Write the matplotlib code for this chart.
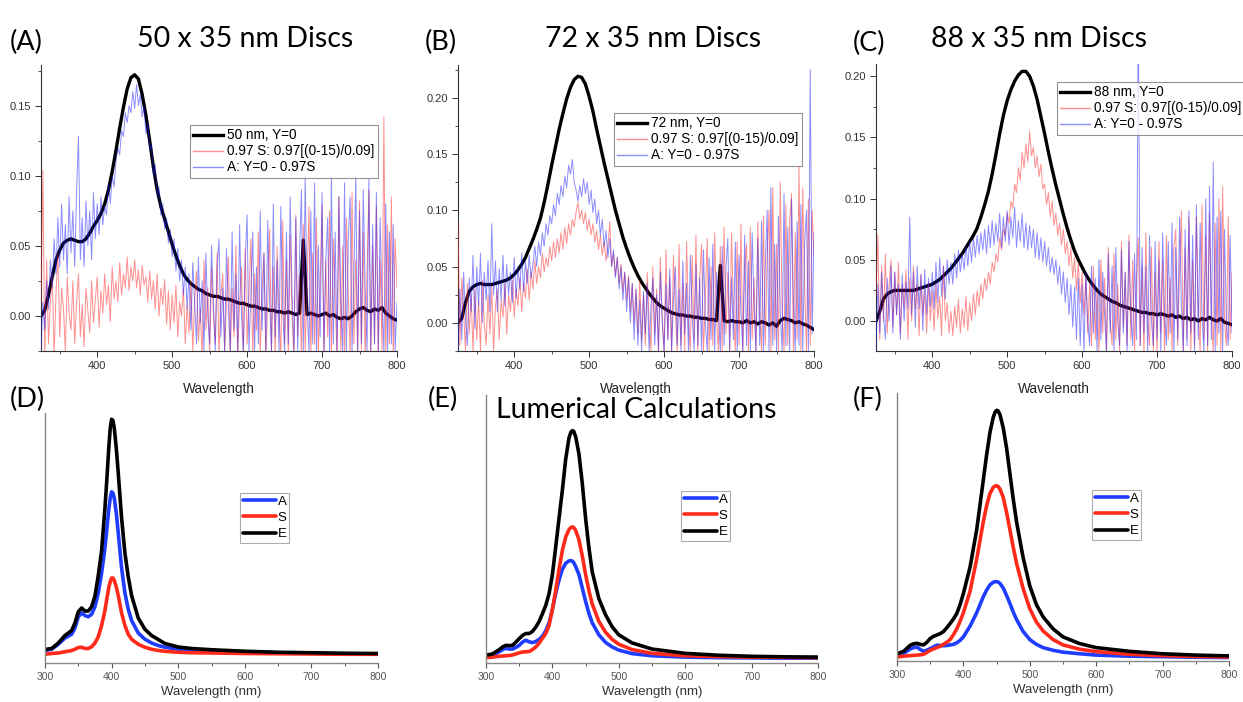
import matplotlib
matplotlib.use('Agg')
import matplotlib.pyplot as plt
from matplotlib.ticker import MultipleLocator, NullLocator

plt.rcParams['font.family'] = ['Liberation Sans', 'DejaVu Sans']

# ---- measured spectra (panels A-C) ----
# black (extinction) read every 5 nm, red/blue (noisy) every 2.5 nm
wl_exp = list(range(325, 805, 5))
wl_noisy = [325 + 2.5 * i for i in range(191)]

a_black = [0.000, 0.004, 0.015, 0.028, 0.040, 0.047, 0.052, 0.054, 0.055, 0.054,
           0.053, 0.053, 0.055, 0.059, 0.064, 0.068, 0.073, 0.080, 0.090, 0.103,
           0.118, 0.134, 0.149, 0.162, 0.170, 0.172, 0.169, 0.158, 0.143, 0.125,
           0.106, 0.090, 0.078, 0.069, 0.060, 0.051, 0.043, 0.036, 0.030, 0.026,
           0.023, 0.021, 0.019, 0.018, 0.016, 0.015, 0.014, 0.014, 0.013, 0.012,
           0.012, 0.011, 0.010, 0.009, 0.009, 0.008, 0.007, 0.007, 0.006, 0.005,
           0.005, 0.004, 0.004, 0.003, 0.003, 0.002, 0.003, 0.002, 0.001, 0.002,
           0.054, 0.001, 0.002, 0.001, 0.000, 0.001, 0.002, 0.000, 0.001, -0.001,
           -0.002, -0.001, -0.002, 0.000, 0.003, 0.005, 0.006, 0.004, 0.003, 0.005,
           0.004, 0.006, 0.002, 0.000, -0.002, -0.003]
a_red = [0.010, 0.104, -0.030, 0.040, -0.020, 0.010, 0.030, -0.028, 0.015, 0.045,
         -0.015, 0.020, 0.005, -0.025, 0.028, 0.002, -0.010, 0.025, -0.020, 0.010,
         0.030, -0.015, 0.008, -0.022, 0.020, 0.004, -0.012, 0.025, -0.005, 0.012,
         0.028, -0.008, 0.018, 0.002, 0.030, 0.008, 0.022, -0.004, 0.035, 0.012,
         0.025, 0.010, 0.038, 0.015, 0.030, 0.020, 0.042, 0.018, 0.035, 0.025,
         0.040, 0.020, 0.033, 0.015, 0.036, 0.022, 0.028, 0.010, 0.032, 0.012,
         0.025, 0.005, 0.030, 0.000, 0.020, 0.008, 0.026, -0.006, 0.018, -0.010,
         0.015, -0.005, 0.022, -0.015, 0.010, 0.000, 0.020, -0.020, 0.008, -0.012,
         0.025, -0.025, 0.010, 0.032, -0.018, 0.005, -0.030, 0.040, -0.010, 0.020,
         -0.028, 0.035, 0.000, -0.020, 0.045, -0.030, 0.015, 0.030, -0.025, 0.008,
         0.042, -0.030, 0.020, -0.015, 0.050, -0.030, 0.010, 0.035, -0.028, 0.048,
         -0.020, 0.015, 0.055, -0.030, 0.030, -0.010, 0.060, -0.030, 0.020, 0.045,
         -0.030, 0.010, 0.062, -0.025, 0.035, -0.030, 0.050, 0.005, -0.030, 0.068,
         -0.020, 0.040, -0.030, 0.058, 0.000, -0.030, 0.072, -0.015, 0.030, -0.030,
         0.065, -0.025, 0.020, 0.078, -0.030, 0.045, -0.020, 0.070, -0.030, 0.025,
         0.080, -0.030, 0.040, -0.015, 0.075, -0.030, 0.055, 0.010, -0.030, 0.085,
         -0.025, 0.050, -0.030, 0.070, 0.015, -0.030, 0.088, -0.020, 0.040, -0.030,
         0.082, -0.025, 0.060, -0.030, 0.030, 0.090, -0.030, 0.050, -0.020, 0.078,
         -0.030, 0.040, -0.025, 0.142, -0.030, 0.065, -0.020, 0.085, -0.030, 0.055,
         0.020]
a_blue = [-0.025, 0.010, -0.010, 0.025, 0.005, 0.040, 0.020, 0.055, 0.030, 0.070,
          0.035, 0.080, 0.040, 0.065, 0.030, 0.085, 0.045, 0.075, 0.035, 0.090,
          0.128, 0.040, 0.070, 0.035, 0.082, 0.050, 0.075, 0.040, 0.088, 0.055,
          0.080, 0.058, 0.085, 0.065, 0.078, 0.072, 0.095, 0.080, 0.100, 0.092,
          0.110, 0.120, 0.115, 0.132, 0.128, 0.145, 0.138, 0.150, 0.145, 0.160,
          0.148, 0.165, 0.150, 0.158, 0.142, 0.150, 0.130, 0.138, 0.118, 0.122,
          0.100, 0.108, 0.085, 0.092, 0.072, 0.080, 0.062, 0.070, 0.052, 0.062,
          0.042, 0.055, 0.032, 0.048, 0.025, 0.040, 0.015, 0.035, 0.005, 0.030,
          -0.010, 0.038, 0.010, -0.020, 0.042, -0.005, 0.025, -0.025, 0.045, 0.000,
          -0.020, 0.050, 0.010, -0.025, 0.035, 0.055, -0.015, 0.020, -0.025, 0.048,
          0.005, -0.025, 0.060, -0.010, 0.030, -0.025, 0.065, 0.000, -0.025, 0.040,
          0.072, -0.025, 0.015, 0.060, -0.025, 0.035, -0.020, 0.075, -0.010, 0.045,
          -0.025, 0.068, 0.010, -0.025, 0.080, -0.015, 0.040, -0.025, 0.078, 0.005,
          -0.025, 0.060, -0.020, 0.085, 0.015, -0.025, 0.070, -0.025, 0.045, 0.090,
          -0.025, 0.100, 0.010, -0.025, 0.075, -0.020, 0.095, -0.025, 0.050, -0.015,
          0.088, -0.025, 0.040, 0.070, -0.025, 0.100, -0.020, 0.060, -0.025, 0.085,
          0.010, -0.025, 0.095, -0.025, 0.055, 0.085, -0.025, 0.030, 0.100, -0.025,
          0.075, -0.020, 0.090, 0.020, -0.025, 0.098, -0.025, 0.065, -0.020, 0.088,
          -0.025, 0.070, 0.010, -0.025, 0.080, -0.025, 0.060, -0.020, 0.065, -0.025,
          0.010]

b_black = [0.000, 0.004, 0.018, 0.028, 0.032, 0.034, 0.035, 0.034, 0.034, 0.034,
           0.035, 0.036, 0.037, 0.038, 0.040, 0.043, 0.047, 0.052, 0.058, 0.066,
           0.074, 0.083, 0.093, 0.107, 0.123, 0.140, 0.156, 0.172, 0.186, 0.199,
           0.209, 0.216, 0.219, 0.218, 0.212, 0.201, 0.188, 0.172, 0.157, 0.142,
           0.128, 0.114, 0.100, 0.088, 0.076, 0.066, 0.057, 0.049, 0.042, 0.036,
           0.031, 0.026, 0.022, 0.018, 0.015, 0.013, 0.011, 0.009, 0.008, 0.007,
           0.007, 0.006, 0.006, 0.005, 0.005, 0.004, 0.004, 0.003, 0.003, 0.002,
           0.051, 0.002, 0.001, 0.002, 0.001, 0.001, 0.000, 0.002, 0.000, 0.001,
           -0.001, 0.001, 0.000, -0.002, 0.000, -0.003, 0.002, 0.004, 0.003, 0.002,
           0.000, 0.001, -0.001, -0.002, -0.004, -0.006]
b_red = [0.090, -0.020, 0.040, 0.010, -0.025, 0.035, -0.010, 0.025, -0.025, 0.030,
         -0.015, 0.020, -0.025, 0.038, 0.000, -0.020, 0.025, -0.010, 0.032, -0.025,
         0.015, 0.030, -0.015, 0.020, 0.005, 0.035, -0.010, 0.025, 0.010, 0.038,
         0.005, 0.030, 0.015, 0.040, 0.010, 0.035, 0.022, 0.048, 0.020, 0.045,
         0.030, 0.055, 0.035, 0.050, 0.040, 0.062, 0.045, 0.058, 0.050, 0.068,
         0.055, 0.072, 0.058, 0.075, 0.062, 0.080, 0.065, 0.085, 0.070, 0.088,
         0.078, 0.092, 0.085, 0.098, 0.107, 0.092, 0.100, 0.088, 0.098, 0.082,
         0.092, 0.078, 0.088, 0.072, 0.082, 0.065, 0.078, 0.060, 0.072, 0.055,
         0.068, 0.090, 0.050, 0.062, 0.042, 0.058, 0.035, 0.052, 0.028, 0.045,
         0.020, 0.042, 0.010, 0.035, 0.000, 0.030, -0.010, 0.038, -0.015, 0.025,
         -0.020, 0.045, 0.000, -0.025, 0.050, -0.010, 0.030, -0.025, 0.058, 0.005,
         -0.025, 0.065, -0.015, 0.040, -0.025, 0.060, 0.010, -0.025, 0.070, -0.020,
         0.035, -0.025, 0.072, 0.000, -0.025, 0.060, -0.015, 0.078, -0.025, 0.040,
         0.070, -0.025, 0.020, 0.075, -0.025, 0.050, -0.020, 0.080, 0.005, -0.025,
         0.068, -0.025, 0.085, -0.010, 0.045, -0.025, 0.080, 0.010, -0.025, 0.072,
         -0.020, 0.088, -0.025, 0.050, 0.070, -0.025, 0.085, -0.015, 0.040, -0.025,
         0.090, 0.010, -0.025, 0.095, -0.020, 0.060, 0.100, -0.025, 0.120, -0.015,
         0.070, -0.025, 0.125, 0.010, -0.025, 0.105, -0.020, 0.090, 0.115, -0.025,
         0.080, -0.015, 0.140, -0.025, 0.120, 0.030, -0.025, 0.110, -0.020, 0.100,
         0.060]
b_blue = [-0.025, 0.030, -0.015, 0.045, 0.005, -0.020, 0.040, 0.010, 0.060, -0.005,
          0.050, 0.015, 0.062, 0.000, 0.045, 0.020, 0.055, 0.010, 0.088, 0.025,
          0.055, 0.010, 0.048, 0.020, 0.060, 0.015, 0.052, 0.025, 0.045, 0.018,
          0.058, 0.022, 0.050, 0.030, 0.062, 0.028, 0.055, 0.035, 0.060, 0.040,
          0.052, 0.068, 0.050, 0.072, 0.060, 0.080, 0.068, 0.088, 0.078, 0.095,
          0.088, 0.105, 0.095, 0.115, 0.105, 0.122, 0.112, 0.130, 0.120, 0.140,
          0.132, 0.145, 0.125, 0.118, 0.108, 0.122, 0.112, 0.128, 0.115, 0.125,
          0.105, 0.118, 0.098, 0.110, 0.088, 0.100, 0.078, 0.092, 0.068, 0.082,
          0.058, 0.075, 0.050, 0.065, 0.040, 0.058, 0.030, 0.050, 0.020, 0.045,
          0.010, 0.040, 0.000, 0.035, -0.015, 0.030, -0.020, 0.020, -0.025, 0.028,
          -0.010, 0.035, -0.025, 0.015, 0.040, -0.020, 0.025, -0.025, 0.045, 0.000,
          -0.025, 0.035, -0.015, 0.048, -0.025, 0.020, 0.050, -0.020, 0.030, -0.025,
          0.055, -0.010, 0.035, -0.025, 0.060, 0.005, -0.025, 0.052, -0.020, 0.040,
          -0.025, 0.065, 0.000, -0.025, 0.058, -0.015, 0.070, -0.025, 0.045, 0.010,
          -0.025, 0.068, -0.020, 0.050, 0.075, -0.025, 0.040, -0.015, 0.072, -0.025,
          0.060, 0.010, -0.025, 0.078, -0.020, 0.055, -0.025, 0.080, 0.015, -0.025,
          0.075, -0.020, 0.090, -0.025, 0.050, 0.100, -0.025, 0.120, -0.020, 0.070,
          -0.025, 0.095, 0.010, -0.025, 0.115, -0.020, 0.085, -0.025, 0.110, 0.020,
          -0.025, 0.090, -0.020, 0.105, -0.025, 0.070, 0.100, -0.025, 0.225, -0.010,
          0.080]

c_black = [0.000, 0.008, 0.018, 0.022, 0.024, 0.025, 0.025, 0.025, 0.025, 0.025,
           0.025, 0.026, 0.027, 0.028, 0.029, 0.030, 0.032, 0.034, 0.037, 0.040,
           0.043, 0.047, 0.051, 0.055, 0.060, 0.065, 0.070, 0.076, 0.085, 0.095,
           0.106, 0.120, 0.136, 0.153, 0.168, 0.180, 0.189, 0.196, 0.201, 0.204,
           0.204, 0.200, 0.192, 0.181, 0.167, 0.153, 0.138, 0.124, 0.111, 0.099,
           0.087, 0.076, 0.066, 0.057, 0.050, 0.044, 0.038, 0.033, 0.029, 0.025,
           0.022, 0.020, 0.018, 0.016, 0.015, 0.013, 0.012, 0.011, 0.010, 0.009,
           0.008, 0.007, 0.007, 0.006, 0.006, 0.005, 0.006, 0.005, 0.004, 0.005,
           0.003, 0.004, 0.002, 0.003, 0.001, 0.002, 0.000, 0.002, 0.001, 0.003,
           0.001, 0.000, 0.002, -0.001, -0.002, -0.003]
c_red = [0.020, 0.070, -0.015, 0.045, 0.000, 0.055, -0.010, 0.030, 0.050, -0.005,
         0.040, 0.005, 0.048, -0.010, 0.030, 0.010, 0.042, -0.015, 0.035, 0.000,
         0.045, 0.010, 0.030, -0.012, 0.038, 0.005, 0.025, -0.010, 0.032, 0.000,
         0.025, -0.008, 0.030, 0.002, 0.020, -0.012, 0.045, 0.000, 0.015, -0.010,
         0.008, -0.012, 0.012, -0.005, 0.018, -0.010, 0.010, -0.005, 0.020, -0.008,
         0.015, 0.000, 0.022, 0.005, 0.025, 0.012, 0.030, 0.018, 0.035, 0.025,
         0.040, 0.030, 0.048, 0.040, 0.055, 0.048, 0.068, 0.058, 0.075, 0.070,
         0.088, 0.080, 0.098, 0.092, 0.112, 0.105, 0.125, 0.115, 0.138, 0.125,
         0.145, 0.130, 0.155, 0.135, 0.142, 0.125, 0.135, 0.118, 0.128, 0.108,
         0.112, 0.095, 0.105, 0.085, 0.098, 0.078, 0.088, 0.070, 0.080, 0.062,
         0.075, 0.055, 0.065, 0.045, 0.060, 0.035, 0.052, 0.025, 0.048, 0.015,
         0.040, 0.005, 0.035, -0.010, 0.030, -0.020, 0.045, -0.015, 0.025, -0.025,
         0.050, -0.010, 0.035, -0.025, 0.060, 0.000, -0.020, 0.055, -0.015, 0.030,
         -0.025, 0.065, -0.005, 0.040, -0.020, 0.070, -0.015, 0.050, -0.025, 0.035,
         0.068, -0.020, 0.045, -0.025, 0.072, 0.000, -0.020, 0.060, -0.025, 0.040,
         -0.025, 0.065, -0.010, 0.050, -0.025, 0.070, -0.015, 0.035, -0.025, 0.060,
         0.075, -0.020, 0.040, 0.090, -0.025, 0.060, -0.015, 0.085, -0.025, 0.050,
         -0.020, 0.085, 0.010, -0.025, 0.095, -0.015, 0.070, -0.025, 0.088, 0.005,
         -0.025, 0.080, -0.020, 0.100, -0.025, 0.110, 0.000, -0.020, 0.085, -0.015,
         0.040]
c_blue = [-0.025, 0.030, -0.010, 0.040, 0.005, -0.015, 0.035, 0.000, 0.045, -0.010,
          0.040, 0.005, 0.030, -0.015, 0.038, 0.000, 0.032, 0.010, 0.085, 0.005,
          0.040, -0.005, 0.045, 0.010, 0.038, -0.008, 0.042, 0.005, 0.035, 0.012,
          0.040, 0.010, 0.048, 0.015, 0.052, 0.020, 0.045, 0.018, 0.050, 0.030,
          0.048, 0.030, 0.055, 0.035, 0.058, 0.040, 0.055, 0.042, 0.062, 0.045,
          0.065, 0.048, 0.068, 0.052, 0.070, 0.055, 0.072, 0.058, 0.075, 0.055,
          0.078, 0.060, 0.082, 0.062, 0.080, 0.065, 0.088, 0.060, 0.085, 0.065,
          0.090, 0.062, 0.085, 0.068, 0.093, 0.060, 0.082, 0.065, 0.088, 0.060,
          0.080, 0.058, 0.078, 0.060, 0.075, 0.052, 0.072, 0.050, 0.068, 0.048,
          0.065, 0.045, 0.060, 0.040, 0.052, 0.038, 0.050, 0.030, 0.045, 0.022,
          0.040, 0.015, 0.035, 0.005, 0.030, -0.005, 0.028, -0.015, 0.035, -0.020,
          0.030, -0.025, 0.040, 0.000, -0.020, 0.045, -0.010, 0.035, -0.025, 0.050,
          -0.015, 0.040, 0.005, -0.025, 0.055, -0.010, 0.045, -0.025, 0.060, 0.000,
          -0.020, 0.058, -0.010, 0.040, -0.025, 0.065, 0.005, -0.020, 0.055, -0.015,
          0.260, -0.020, 0.060, -0.010, 0.045, -0.025, 0.070, 0.000, -0.020, 0.065,
          -0.015, 0.050, -0.025, 0.072, 0.005, -0.020, 0.065, -0.010, 0.080, -0.025,
          0.060, -0.015, 0.085, 0.010, -0.025, 0.075, -0.020, 0.090, -0.010, 0.070,
          -0.025, 0.095, -0.015, 0.080, 0.005, -0.025, 0.100, -0.020, 0.110, -0.015,
          0.130, -0.025, 0.085, -0.010, 0.090, -0.025, 0.075, 0.000, -0.020, 0.070,
          -0.010]

# ---- Lumerical calculations (panels D-F), arbitrary units ----
d_wl = [300, 310, 320, 330, 340, 345, 350, 355, 360, 365, 370, 375, 380, 385, 390,
        393, 396, 398, 400, 402, 404, 407, 410, 415, 420, 425, 430, 440, 450, 460,
        470, 480, 500, 520, 550, 600, 650, 700, 750, 800]
d_A = [0.050, 0.055, 0.075, 0.100, 0.115, 0.140, 0.185, 0.200, 0.190, 0.185,
       0.195, 0.225, 0.280, 0.360, 0.460, 0.540, 0.620, 0.660, 0.685, 0.680,
       0.660, 0.600, 0.520, 0.380, 0.280, 0.215, 0.170, 0.120, 0.095, 0.080,
       0.070, 0.063, 0.055, 0.051, 0.048, 0.044, 0.041, 0.039, 0.037, 0.036]
d_S = [0.035, 0.038, 0.040, 0.045, 0.050, 0.055, 0.062, 0.063, 0.058, 0.058,
       0.065, 0.080, 0.105, 0.150, 0.210, 0.260, 0.305, 0.325, 0.340, 0.340,
       0.330, 0.305, 0.270, 0.200, 0.150, 0.115, 0.095, 0.075, 0.063, 0.055,
       0.050, 0.047, 0.043, 0.041, 0.040, 0.038, 0.037, 0.036, 0.035, 0.035]
d_E = [0.054, 0.058, 0.080, 0.110, 0.130, 0.160, 0.205, 0.220, 0.208, 0.208,
       0.225, 0.268, 0.350, 0.450, 0.620, 0.740, 0.870, 0.940, 0.975, 0.970,
       0.940, 0.860, 0.760, 0.580, 0.440, 0.345, 0.270, 0.180, 0.135, 0.110,
       0.094, 0.078, 0.064, 0.058, 0.053, 0.047, 0.043, 0.041, 0.039, 0.038]

e_wl = [300, 310, 320, 325, 330, 335, 340, 345, 350, 355, 360, 365, 370, 375, 380,
        385, 390, 395, 400, 405, 410, 415, 420, 425, 428, 430, 432, 435, 440, 445,
        450, 455, 460, 470, 480, 490, 500, 520, 550, 600, 650, 700, 750, 800]
e_A = [0.025, 0.028, 0.042, 0.050, 0.055, 0.052, 0.052, 0.058, 0.066, 0.078,
       0.085, 0.079, 0.076, 0.080, 0.088, 0.100, 0.120, 0.150, 0.200, 0.260,
       0.310, 0.350, 0.372, 0.381, 0.382, 0.380, 0.375, 0.360, 0.330, 0.280,
       0.230, 0.185, 0.150, 0.105, 0.077, 0.060, 0.048, 0.035, 0.027, 0.022,
       0.020, 0.019, 0.018, 0.018]
e_S = [0.020, 0.022, 0.025, 0.026, 0.027, 0.028, 0.030, 0.034, 0.038, 0.041,
       0.042, 0.043, 0.050, 0.060, 0.074, 0.092, 0.110, 0.140, 0.200, 0.270,
       0.350, 0.420, 0.470, 0.498, 0.506, 0.508, 0.506, 0.495, 0.460, 0.400,
       0.330, 0.270, 0.220, 0.155, 0.115, 0.088, 0.070, 0.050, 0.036, 0.027,
       0.024, 0.022, 0.021, 0.020]
e_E = [0.029, 0.034, 0.050, 0.060, 0.066, 0.065, 0.066, 0.078, 0.091, 0.103,
       0.110, 0.110, 0.118, 0.134, 0.155, 0.184, 0.215, 0.259, 0.330, 0.433,
       0.540, 0.645, 0.760, 0.840, 0.862, 0.867, 0.865, 0.845, 0.780, 0.670,
       0.540, 0.430, 0.340, 0.240, 0.180, 0.135, 0.105, 0.075, 0.052, 0.036,
       0.029, 0.025, 0.023, 0.022]

f_wl = [300, 310, 320, 325, 330, 335, 340, 345, 350, 355, 360, 365, 370, 375, 380,
        385, 390, 395, 400, 410, 420, 430, 435, 440, 445, 448, 450, 452, 455, 460,
        465, 470, 475, 480, 490, 500, 510, 520, 535, 550, 575, 600, 650, 700, 750, 800]
f_A = [0.020, 0.028, 0.045, 0.050, 0.052, 0.043, 0.036, 0.040, 0.046, 0.053,
       0.059, 0.058, 0.057, 0.058, 0.060, 0.062, 0.068, 0.077, 0.090, 0.130,
       0.180, 0.240, 0.265, 0.284, 0.294, 0.296, 0.296, 0.295, 0.290, 0.272,
       0.245, 0.215, 0.183, 0.155, 0.110, 0.080, 0.062, 0.050, 0.040, 0.033,
       0.027, 0.022, 0.018, 0.016, 0.014, 0.013]
f_S = [0.015, 0.018, 0.020, 0.021, 0.022, 0.023, 0.025, 0.032, 0.040, 0.045,
       0.050, 0.055, 0.062, 0.070, 0.080, 0.098, 0.120, 0.148, 0.180, 0.260,
       0.380, 0.520, 0.580, 0.625, 0.648, 0.653, 0.654, 0.652, 0.642, 0.610,
       0.555, 0.490, 0.425, 0.365, 0.270, 0.195, 0.145, 0.112, 0.080, 0.060,
       0.044, 0.035, 0.025, 0.020, 0.017, 0.015]
f_E = [0.027, 0.036, 0.059, 0.064, 0.066, 0.062, 0.060, 0.070, 0.084, 0.092,
       0.097, 0.102, 0.110, 0.124, 0.140, 0.157, 0.177, 0.210, 0.252, 0.350,
       0.489, 0.676, 0.770, 0.853, 0.910, 0.930, 0.935, 0.934, 0.920, 0.870,
       0.795, 0.700, 0.605, 0.520, 0.385, 0.280, 0.210, 0.165, 0.120, 0.090,
       0.065, 0.050, 0.036, 0.027, 0.022, 0.019]

sizes = ['50', '72', '88']
s_label = '0.97 S: 0.97[(0-15)/0.09]'
a_label = 'A: Y=0 - 0.97S'

W, H = 1243, 702
fig = plt.figure(figsize=(W / 100, H / 100), dpi=100)


def fbox(l, t, r, b):
    # pixel box -> figure fraction
    return [l / W, 1 - b / H, (r - l) / W, (b - t) / H]


# top row: measured
top = [
    (fbox(41, 65, 397, 351), (-0.025, 0.179), a_black, a_red, a_blue, (190, 125)),
    (fbox(458, 65, 814, 351), (-0.025, 0.229), b_black, b_red, b_blue, (614, 113)),
    (fbox(876, 64, 1232, 351), (-0.0245, 0.21), c_black, c_red, c_blue, (1057, 82)),
]
for (pos, ylim, yk, yr, yb, lg), size in zip(top, sizes):
    ax = fig.add_axes(pos)
    ax.plot(wl_exp, yk, color='black', lw=2.4, label=f'{size} nm, Y=0', zorder=2)
    ax.plot(wl_noisy, yr, color='#ff2020', lw=0.7, alpha=0.5, label=s_label, zorder=3)
    ax.plot(wl_noisy, yb, color='#1a1aff', lw=0.7, alpha=0.5, label=a_label, zorder=4)
    ax.set_xlim(325, 800)
    ax.set_ylim(*ylim)
    ax.xaxis.set_major_locator(MultipleLocator(100))
    ax.xaxis.set_minor_locator(MultipleLocator(50))
    ax.yaxis.set_major_locator(MultipleLocator(0.05))
    ax.yaxis.set_minor_locator(MultipleLocator(0.025))
    ax.yaxis.set_major_formatter(plt.FormatStrFormatter('%.2f'))
    for s in ['top', 'right']:
        ax.spines[s].set_visible(False)
    for s in ['left', 'bottom']:
        ax.spines[s].set_color('#333333')
        ax.spines[s].set_linewidth(0.8)
    ax.tick_params(which='major', direction='out', length=4, width=0.7,
                   labelsize=8, colors='#333333', pad=3)
    ax.tick_params(which='minor', direction='out', length=2.5, width=0.6,
                   colors='#333333')
    ax.set_xlabel('Wavelength', fontsize=9.8, color='#222222', labelpad=8)
    leg = ax.legend(loc='upper left', bbox_to_anchor=(lg[0] / W, 1 - lg[1] / H),
                    bbox_transform=fig.transFigure, fontsize=9.8, frameon=True,
                    fancybox=False, borderpad=0.25, labelspacing=0.15,
                    handlelength=2.2, handletextpad=0.3, borderaxespad=0)
    leg.get_frame().set_edgecolor('#777777')
    leg.get_frame().set_linewidth(0.8)
    for ln in leg.get_lines()[1:]:
        ln.set_linewidth(1.0)

# bottom row: Lumerical
bottom = [
    (fbox(45, 413, 378, 663), d_wl, d_A, d_S, d_E, (240, 493)),
    (fbox(486, 395, 818, 663), e_wl, e_A, e_S, e_E, (681, 491)),
    (fbox(897, 393, 1229, 661), f_wl, f_A, f_S, f_E, (1092, 490)),
]
for pos, x, ya, ys, ye, lg in bottom:
    ax = fig.add_axes(pos)
    ax.plot(x, ya, color='#1f3dff', lw=2.6, label='A', solid_capstyle='round')
    ax.plot(x, ys, color='#ff2a1a', lw=2.6, label='S', solid_capstyle='round')
    ax.plot(x, ye, color='black', lw=2.6, label='E', solid_capstyle='round')
    ax.set_xlim(300, 800)
    ax.set_ylim(0, 1)
    ax.xaxis.set_major_locator(MultipleLocator(100))
    ax.xaxis.set_minor_locator(MultipleLocator(50))
    ax.yaxis.set_major_locator(NullLocator())
    for s in ['top', 'right']:
        ax.spines[s].set_visible(False)
    for s in ['left', 'bottom']:
        ax.spines[s].set_color('#888888')
        ax.spines[s].set_linewidth(1.0)
    ax.tick_params(which='major', direction='out', length=3.5, width=0.8,
                   labelsize=7.5, colors='#555555', pad=3)
    ax.tick_params(which='minor', direction='out', length=2.5, width=0.7,
                   colors='#555555')
    ax.set_xlabel('Wavelength (nm)', fontsize=9.5, color='#333333', labelpad=2.5)
    leg = ax.legend(loc='upper left', bbox_to_anchor=(lg[0] / W, 1 - lg[1] / H),
                    bbox_transform=fig.transFigure, fontsize=9.5, frameon=True,
                    fancybox=False, borderpad=0.2, labelspacing=0.3,
                    handlelength=2.5, handletextpad=0.15, borderaxespad=0)
    leg.get_frame().set_edgecolor('#999999')
    leg.get_frame().set_linewidth(0.8)

# panel letters and titles
tfont = dict(family=['Lato', 'DejaVu Sans'], color='black')
for txt, x, y in [('(A)', 10, 50), ('(B)', 425, 50), ('(C)', 853, 51),
                  ('(D)', 10, 407), ('(E)', 428, 407), ('(F)', 853, 407)]:
    fig.text(x / W, 1 - y / H, txt, fontsize=19.5, ha='left', va='baseline', **tfont)
for txt, x, y in [('50 x 35 nm Discs', 245, 47), ('72 x 35 nm Discs', 653, 47),
                  ('88 x 35 nm Discs', 1039, 47), ('Lumerical Calculations', 636, 418)]:
    fig.text(x / W, 1 - y / H, txt, fontsize=20.5, ha='center', va='baseline', **tfont)

fig.savefig('out.png', dpi=100)
